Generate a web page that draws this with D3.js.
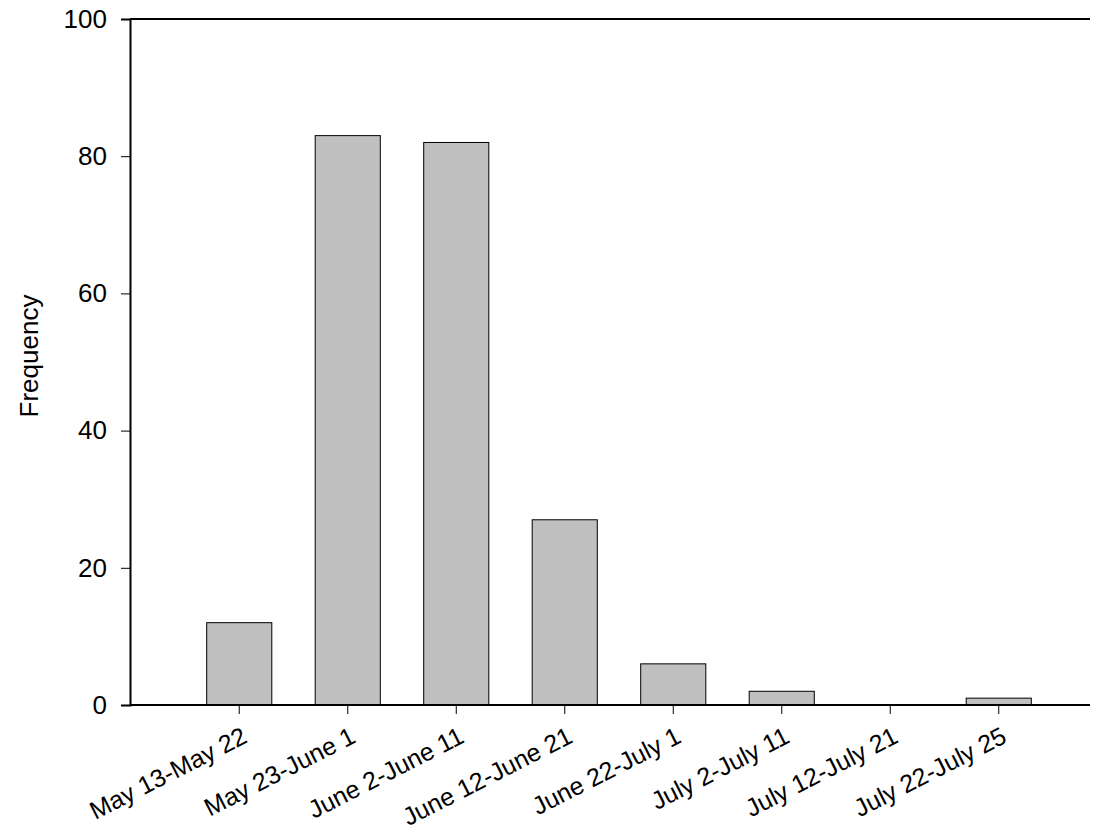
<!DOCTYPE html>
<html><head><meta charset="utf-8">
<script src="https://cdn.jsdelivr.net/npm/d3@7"></script>
<style>body{margin:0;background:#fff}text{font-family:"Liberation Sans",Arial,sans-serif}</style>
</head><body><div id="chart"></div>
<script>
// Period labels and counts
const categories = ['May 13-May 22','May 23-June 1','June 2-June 11','June 12-June 21','June 22-July 1','July 2-July 11','July 12-July 21','July 22-July 25'];
const values = [12, 83, 82, 27, 6, 2, 0, 1];
const yTicks = [0, 20, 40, 60, 80, 100];

const width = 1107, height = 833;
const svg = d3.select('#chart').append('svg').attr('width', width).attr('height', height);

const x = d3.scaleBand().domain(categories).range([185, 1053]).paddingInner(0.4).paddingOuter(0.2);
const y = d3.scaleLinear().domain([0, 100]).range([705, 19]);

// bars
svg.selectAll('rect.bar').data(values).enter().append('rect')
    .attr('x', (d, i) => x(categories[i]))
    .attr('y', d => y(d))
    .attr('width', x.bandwidth())
    .attr('height', d => y(0) - y(d))
    .attr('fill', '#c0c0c0').attr('stroke', '#000').attr('stroke-width', 1);

// y axis
const yAxis = svg.append('g').attr('transform', 'translate(130,0)')
    .call(d3.axisLeft(y).tickValues(yTicks).tickSize(9).tickPadding(14));
yAxis.select('.domain').attr('stroke-width', 2);
yAxis.selectAll('text').style('font-size', '26px').attr('fill', '#000');

// x axis
const xAxis = svg.append('g').attr('transform', 'translate(0,705)')
    .call(d3.axisBottom(x).tickSize(9).tickSizeOuter(0));
xAxis.select('.domain').remove();
xAxis.selectAll('text').style('font-size', '25px').attr('fill', '#000')
    .attr('text-anchor', 'end').attr('dy', 0)
    .attr('transform', 'translate(4,26) rotate(-27)');

// frame lines
svg.append('line').attr('x1', 130).attr('x2', 1090).attr('y1', 705).attr('y2', 705).attr('stroke', '#000').attr('stroke-width', 2);
svg.append('line').attr('x1', 130).attr('x2', 1090).attr('y1', 19).attr('y2', 19).attr('stroke', '#000').attr('stroke-width', 2);

svg.append('text').attr('transform', 'translate(38,356) rotate(-90)')
    .attr('text-anchor', 'middle').style('font-size', '26px').text('Frequency');
</script></body></html>
